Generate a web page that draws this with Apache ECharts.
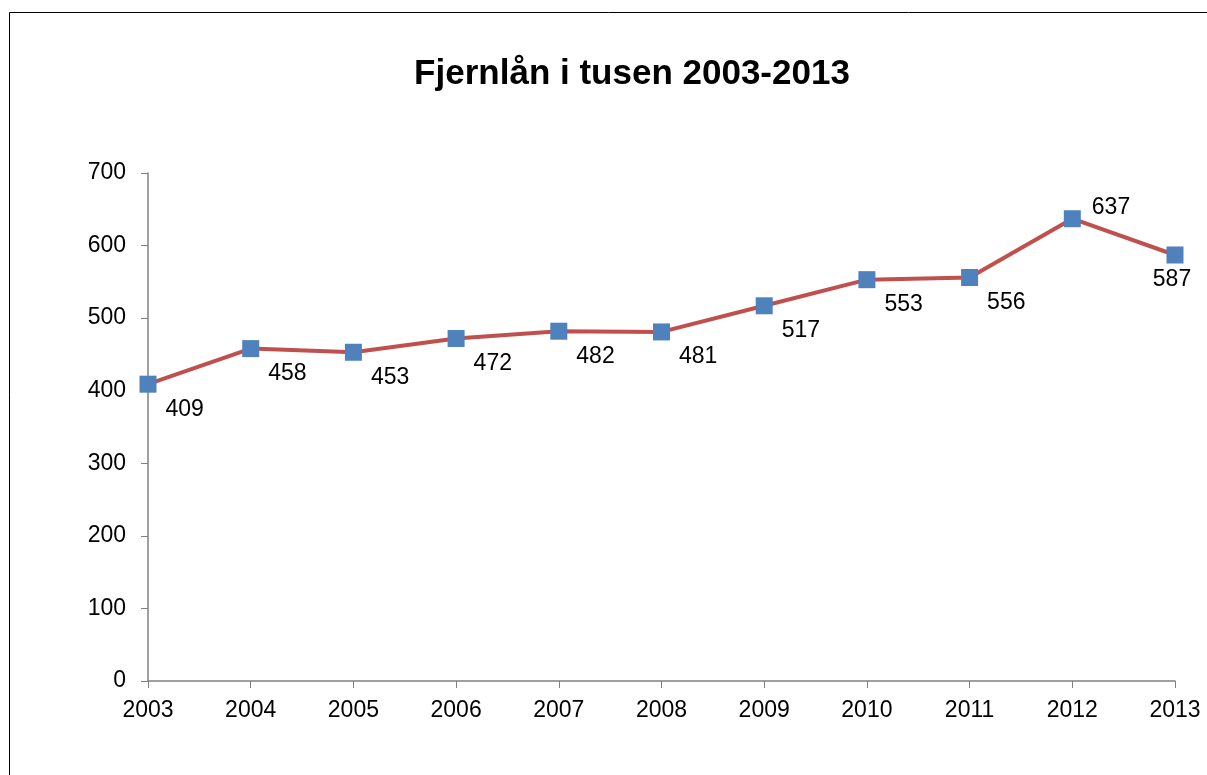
<!DOCTYPE html>
<html>
<head>
<meta charset="utf-8">
<script src="https://cdn.jsdelivr.net/npm/echarts@6/dist/echarts.min.js"></script>
<style>
  html, body { margin: 0; padding: 0; background: #fff; }
  #chart { width: 1207px; height: 775px; }
</style>
</head>
<body>
<div id="chart"></div>
<script>
const years = ['2003', '2004', '2005', '2006', '2007', '2008', '2009', '2010', '2011', '2012', '2013']
const loans = [409, 458, 453, 472, 482, 481, 517, 553, 556, 637, 587]
const yTicks = { min: 0, max: 700, interval: 100 }

const font = 'Arial, "Liberation Sans", sans-serif'

// labels sit below-right of each point, except the last two
function labelFor(i) {
  if (i === 9) return { position: 'right', offset: [6, -11] }
  if (i === 10) return { position: 'bottom', offset: [-3, 0] }
  return { position: 'right', offset: [4, 25] }
}

const chart = echarts.init(document.getElementById('chart'))
chart.setOption({
  backgroundColor: '#fff',
  animation: false,
  graphic: [{
    type: 'rect',
    shape: { x: 9.5, y: 12.5, width: 1300, height: 900 },
    style: { fill: 'none', stroke: '#000', lineWidth: 1 },
    z: -1
  }, {
    type: 'text',
    x: 632,
    y: 74,
    style: {
      text: 'Fjernlån i tusen 2003-2013',
      fontFamily: font,
      fontSize: 35,
      fontWeight: 'bold',
      fill: '#000',
      align: 'center',
      verticalAlign: 'middle'
    }
  }],
  grid: { left: 148, right: 32, top: 173, bottom: 94, containLabel: false },
  xAxis: {
    type: 'category',
    data: years,
    boundaryGap: false,
    axisLine: { lineStyle: { color: '#808080', width: 1.5 } },
    axisTick: { show: true, length: 7, alignWithLabel: true, lineStyle: { color: '#808080' } },
    axisLabel: { fontFamily: font, fontSize: 23, color: '#000', margin: 18 },
    splitLine: { show: false }
  },
  yAxis: {
    type: 'value',
    min: yTicks.min,
    max: yTicks.max,
    interval: yTicks.interval,
    axisLine: { show: true, lineStyle: { color: '#808080', width: 1.5 } },
    axisTick: { show: true, length: 7, lineStyle: { color: '#808080' } },
    axisLabel: { fontFamily: font, fontSize: 23, color: '#000', margin: 22 },
    splitLine: { show: false }
  },
  series: [{
    type: 'line',
    data: loans.map((v, i) => ({ value: v, label: labelFor(i) })),
    symbol: 'rect',
    symbolSize: 17,
    itemStyle: { color: '#4F81BD' },
    lineStyle: { color: '#C0504D', width: 4 },
    label: {
      show: true,
      fontFamily: font,
      fontSize: 23,
      color: '#000'
    }
  }]
})
</script>
</body>
</html>
